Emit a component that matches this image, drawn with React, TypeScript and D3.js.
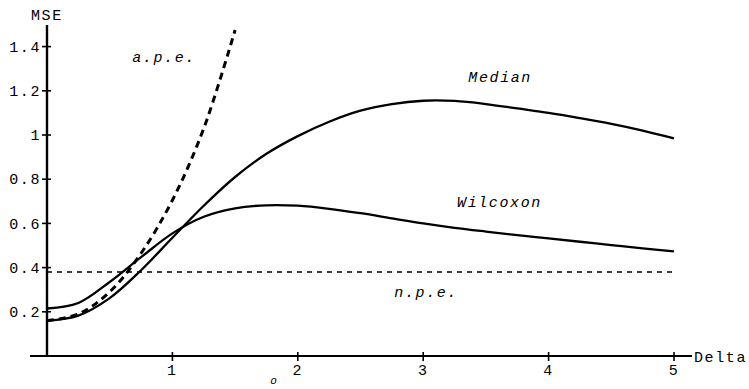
import React from 'react';
import * as d3 from 'd3';

const deltas = [0, 0.25, 0.5, 0.75, 1, 1.25, 1.5, 1.75, 2, 2.25, 2.5, 2.75, 3, 3.25, 3.5, 3.75, 4, 4.25, 4.5, 4.75, 5];
const median = [0.16, 0.183, 0.262, 0.388, 0.535, 0.68, 0.81, 0.915, 0.995, 1.06, 1.11, 1.14, 1.155, 1.154, 1.14, 1.12, 1.1, 1.076, 1.05, 1.02, 0.985];
const wilcoxon = [0.215, 0.24, 0.335, 0.447, 0.555, 0.63, 0.668, 0.682, 0.68, 0.666, 0.646, 0.623, 0.6, 0.58, 0.563, 0.547, 0.532, 0.517, 0.502, 0.487, 0.473];
const apeDeltas = [0, 0.25, 0.5, 0.75, 1, 1.25, 1.5];
const ape = [0.16, 0.19, 0.29, 0.465, 0.705, 1.03, 1.475];
const npe = 0.38;

const xTicks = [1, 2, 3, 4, 5];
const yTicks = [0.2, 0.4, 0.6, 0.8, 1, 1.2, 1.4];

const App = () => {
  const svgWidth = 749;
  const svgHeight = 389;

  const x = d3.scaleLinear().domain([0, 5]).range([47, 674]);
  const y = d3.scaleLinear().domain([0, 1.4]).range([356, 46.6]);

  const line = d3.line<[number, number]>()
    .x(d => x(d[0]))
    .y(d => y(d[1]))
    .curve(d3.curveCatmullRom.alpha(0.5));

  const medianPts = deltas.map((d, i) => [d, median[i]] as [number, number]);
  const wilcoxonPts = deltas.map((d, i) => [d, wilcoxon[i]] as [number, number]);
  const apePts = apeDeltas.map((d, i) => [d, ape[i]] as [number, number]);

  const ink = '#000';
  const font = '"Liberation Mono", "Courier New", monospace';
  const fontSize = 15;
  const spacing = 1.6;

  return (
    <svg width={svgWidth} height={svgHeight} style={{ position: 'absolute', left: 0, top: 0 }}
      fontFamily={font} fontSize={fontSize} letterSpacing={spacing}>
      <rect width={svgWidth} height={svgHeight} fill="#fff" />

      {/* axes */}
      <line x1={x(0)} x2={x(0)} y1={25} y2={y(0)} stroke={ink} strokeWidth={2.4} />
      <line x1={30} x2={692} y1={y(0)} y2={y(0)} stroke={ink} strokeWidth={2.2} />

      <g className="axis axis--y" textAnchor="end">
        {yTicks.map((t, i) => <g key={i} transform={"translate(" + x(0) + "," + y(t) + ")"}>
          <line x1={-5} x2={4} stroke={ink} strokeWidth={1.6} />
          <text x={-6} dy="0.35em" fill={ink}>{d3.format('~g')(t)}</text>
        </g>)}
      </g>

      <g className="axis axis--x" textAnchor="middle">
        {xTicks.map((t, i) => <g key={i} transform={"translate(" + x(t) + "," + y(0) + ")"}>
          <line y1={-4} y2={5} stroke={ink} strokeWidth={1.6} />
          <text y={19} fill={ink}>{t}</text>
        </g>)}
      </g>

      <text x={31} y={20} fill={ink}>MSE</text>
      <text x={694} y={362} fill={ink}>Delta</text>

      {/* n.p.e. */}
      <line x1={x(0)} x2={x(5)} y1={y(npe)} y2={y(npe)} stroke={ink} strokeWidth={1.5} strokeDasharray="5 5" />

      <path d={line(medianPts) || ''} fill="none" stroke={ink} strokeWidth={2.3} />
      <path d={line(wilcoxonPts) || ''} fill="none" stroke={ink} strokeWidth={2.3} />
      <path d={line(apePts) || ''} fill="none" stroke={ink} strokeWidth={3} strokeDasharray="7 5" />

      <g fontStyle="italic" fill={ink}>
        <text x={x(0.68)} y={y(1.33)}>a.p.e.</text>
        <text x={x(3.36)} y={y(1.24)}>Median</text>
        <text x={x(3.27)} y={y(0.675)}>Wilcoxon</text>
        <text x={x(2.77)} y={y(0.267)}>n.p.e.</text>
        <text x={x(1.78)} y={384} fontSize={11}>o</text>
      </g>
    </svg>
  );
};

export default App;
